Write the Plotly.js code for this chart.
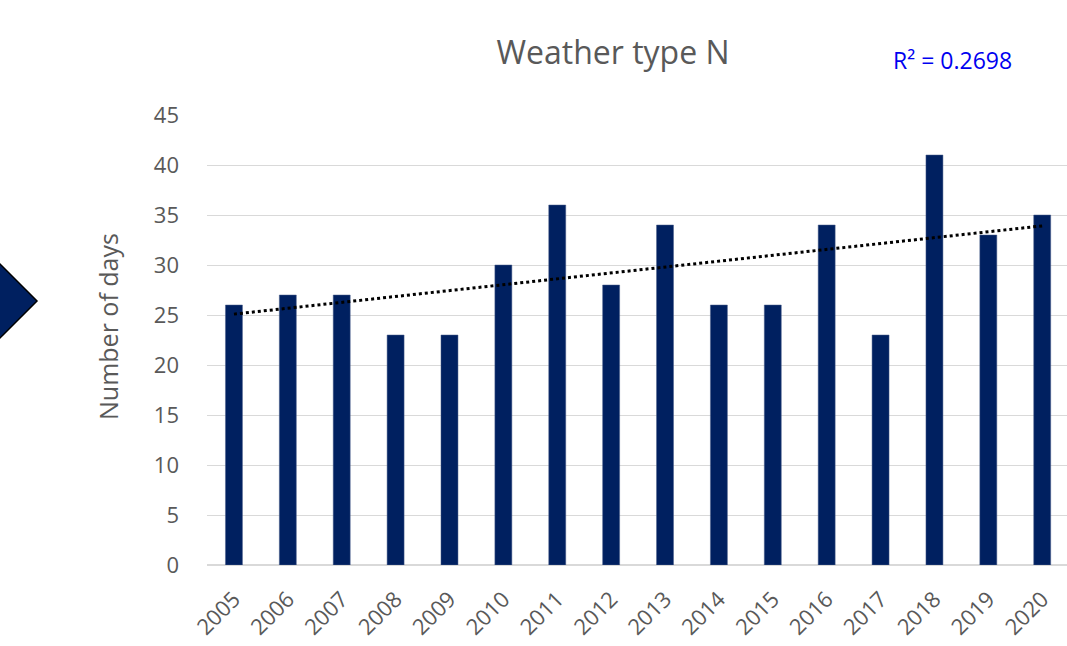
<!DOCTYPE html>
<html>
<head>
<meta charset="utf-8">
<script src="https://cdn.plot.ly/plotly-3.0.1.min.js"></script>
<style>html,body{margin:0;padding:0;overflow:hidden;background:#fff;}</style>
</head>
<body>
<div id="chart" style="width:1067px;height:646px;"></div>
<script>
const years = ['2005','2006','2007','2008','2009','2010','2011','2012','2013','2014','2015','2016','2017','2018','2019','2020'];
const days = [26,27,27,23,23,30,36,28,34,26,26,34,23,41,33,35];
const yTicks = [0,5,10,15,20,25,30,35,40,45];
const chartTitle = 'Weather type N';
const yTitle = 'Number of days';
const r2Label = 'R² = 0.2698';

// linear least-squares trendline from the data
const n = days.length;
const xs = days.map((_, i) => i);
const mx = xs.reduce((a, b) => a + b, 0) / n;
const my = days.reduce((a, b) => a + b, 0) / n;
let sxy = 0, sxx = 0;
for (let i = 0; i < n; i++) { sxy += (xs[i] - mx) * (days[i] - my); sxx += (xs[i] - mx) ** 2; }
const slope = sxy / sxx, icpt = my - slope * mx;
const trend = xs.map(x => icpt + slope * x);

const L = 207, R = 1067, T = 115, B = 565;
const px = v => (v - L) / (R - L);
const py = v => (B - v) / (B - T);

const grey = '#595959';
const font = '"Open Sans", sans-serif';

const data = [
  { type: 'bar', x: years, y: days, width: 0.315,
    marker: { color: '#002060', line: { color: '#4a5f8a', width: 0.5 } },
    hoverinfo: 'x+y' },
  { type: 'scatter', mode: 'lines', x: years, y: trend,
    line: { color: '#000000', width: 3, dash: 'dot' }, hoverinfo: 'skip' }
];

const layout = {
  width: 1067, height: 646,
  margin: { l: L, r: 0, t: T, b: 646 - B },
  paper_bgcolor: '#ffffff', plot_bgcolor: '#ffffff',
  showlegend: false,
  bargap: 0,
  font: { family: font, color: grey },
  title: { text: chartTitle, font: { size: 32, color: grey, family: font },
           x: 613 / 1067, xref: 'container', xanchor: 'center', y: 1 - 53 / 646, yref: 'container', yanchor: 'middle' },
  xaxis: { type: 'category', range: [-0.5, 15.46], tickangle: -45, showgrid: false, zeroline: false,
           showline: false, ticks: '', ticklabelstandoff: 16,
           tickfont: { size: 22, color: grey, family: font }, fixedrange: true },
  yaxis: { range: [0, 45], tickvals: yTicks, ticktext: yTicks.map(String), showgrid: true, gridcolor: '#d9d9d9', gridwidth: 1,
           zeroline: true, zerolinecolor: '#d9d9d9', zerolinewidth: 1.5, showline: false, ticks: '', ticklabelstandoff: 27,
           tickfont: { size: 22, color: grey, family: font }, fixedrange: true },
  annotations: [
    { text: yTitle, xref: 'paper', yref: 'paper', x: px(108), y: py(327), textangle: -90, showarrow: false,
      xanchor: 'center', yanchor: 'middle', font: { size: 25, color: grey, family: font } },
    { text: r2Label, xref: 'paper', yref: 'paper', x: px(952), y: py(60), showarrow: false,
      xanchor: 'center', yanchor: 'middle', font: { size: 23, color: '#0000f0', family: font } }
  ],
  shapes: [
    { type: 'path', xref: 'paper', yref: 'paper', layer: 'above',
      path: `M ${px(-37)} ${py(301)} L ${px(0)} ${py(264)} L ${px(37)} ${py(301)} L ${px(0)} ${py(338)} Z`,
      fillcolor: '#002060', line: { color: '#000000', width: 1.5 } }
  ]
};

Plotly.newPlot('chart', data, layout, { displayModeBar: false, staticPlot: true });
</script>
</body>
</html>
